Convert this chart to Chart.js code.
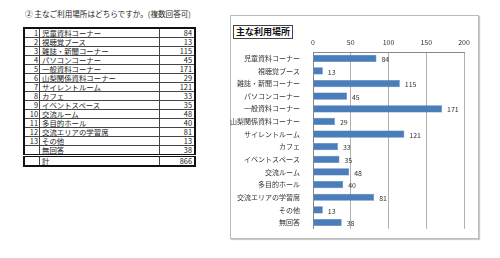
<!DOCTYPE html>
<html>
<head>
<meta charset="utf-8">
<script src="https://cdn.jsdelivr.net/npm/chart.js@4"></script>
<style>
  body { margin: 0; width: 500px; height: 258px; background: #fff; position: relative; overflow: hidden;
         font-family: "Noto Sans CJK JP", sans-serif; }
  #heading { position: absolute; left: 25px; top: 8px; font-size: 7.6px; color: #222; white-space: nowrap; }
  #tbl { position: absolute; left: 23px; top: 27px; width: 173px; border-collapse: collapse; border: 2px solid #111;
         font-size: 7.4px; color: #222; }
  #tbl td { border: 1px solid #444; height: 8px; line-height: 8px; padding: 0 2px; white-space: nowrap; overflow: hidden; }
  #tbl td.no { width: 12px; text-align: right; padding: 0 1px; }
  #tbl td.val { width: 30px; text-align: right; }
  #tbl tr.total td { border-top: 3px double #111; }
  #frame { position: absolute; left: 230px; top: 15px; width: 247px; height: 222px; border: 1px solid #bbb;
           box-shadow: 1px 1px 1px #ccc; }
  #title { position: absolute; left: 233px; top: 25px; font-size: 9px; font-weight: bold; border: 1px solid #444;
           padding: 0 2px; line-height: 12px; background: #fff; color: #111; z-index: 2; }
  #wrap { position: absolute; left: 230px; top: 15px; width: 248px; height: 223px; }
</style>
</head>
<body>
<div id="heading">② 主なご利用場所はどちらですか。(複数回答可)</div>
<table id="tbl"></table>
<div id="frame"></div>
<div id="title">主な利用場所</div>
<div id="wrap"><canvas id="chart"></canvas></div>
<script>
// --- DATA ---
const places = ['児童資料コーナー', '視聴覚ブース', '雑誌・新聞コーナー', 'パソコンコーナー', '一般資料コーナー',
  '山梨関係資料コーナー', 'サイレントルーム', 'カフェ', 'イベントスペース', '交流ルーム', '多目的ホール',
  '交流エリアの学習席', 'その他', '無回答'];
const counts = [84, 13, 115, 45, 171, 29, 121, 33, 35, 48, 40, 81, 13, 38];
const totalLabel = '計';
const totalCount = 866;
const xTicks = [0, 50, 100, 150, 200];

// --- TABLE ---
const tbl = document.getElementById('tbl');
places.forEach((p, i) => {
  const tr = document.createElement('tr');
  const no = i < 13 ? (i + 1) : '';
  tr.innerHTML = `<td class="no">${no}</td><td>${p}</td><td class="val">${counts[i]}</td>`;
  tbl.appendChild(tr);
});
const trTotal = document.createElement('tr');
trTotal.className = 'total';
trTotal.innerHTML = `<td class="no"></td><td>${totalLabel}</td><td class="val">${totalCount}</td>`;
tbl.appendChild(trTotal);

// --- CHART ---
const valueLabels = {
  id: 'valueLabels',
  afterDatasetsDraw(chart) {
    const ctx = chart.ctx;
    const meta = chart.getDatasetMeta(0);
    ctx.save();
    ctx.font = '7px "Noto Sans CJK JP", sans-serif';
    ctx.fillStyle = '#333';
    ctx.textBaseline = 'middle';
    meta.data.forEach((bar, i) => {
      ctx.fillText(counts[i], bar.x + 5, bar.y + 1);
    });
    ctx.restore();
  }
};

new Chart(document.getElementById('chart'), {
  type: 'bar',
  data: {
    labels: places,
    datasets: [{
      data: counts,
      backgroundColor: '#4a7ebb',
      borderColor: '#3f6fa8',
      borderWidth: 0.5,
      barPercentage: 0.6,
      categoryPercentage: 0.95
    }]
  },
  options: {
    indexAxis: 'y',
    responsive: true,
    maintainAspectRatio: false,
    animation: false,
    layout: { padding: { left: 0, right: 14, top: 0, bottom: 8 } },
    plugins: { legend: { display: false }, tooltip: { enabled: false } },
    scales: {
      x: {
        position: 'top',
        min: 0, max: 200,
        afterBuildTicks(scale) { scale.ticks = xTicks.map(v => ({ value: v })); },
        afterFit(scale) { scale.height = 37; },
        grid: { color: '#b0b0b0', lineWidth: 1, drawTicks: false },
        border: { color: '#888' },
        ticks: { color: '#333', padding: 5, font: { size: 7, family: '"Noto Sans CJK JP", sans-serif' } }
      },
      y: {
        afterFit(scale) { scale.width = 83; },
        grid: { display: false, drawTicks: true },
        border: { color: '#888' },
        ticks: { color: '#333', padding: 5, autoSkip: false, font: { size: 7, family: '"Noto Sans CJK JP", sans-serif' } }
      }
    }
  },
  plugins: [valueLabels]
});
</script>
</body>
</html>
